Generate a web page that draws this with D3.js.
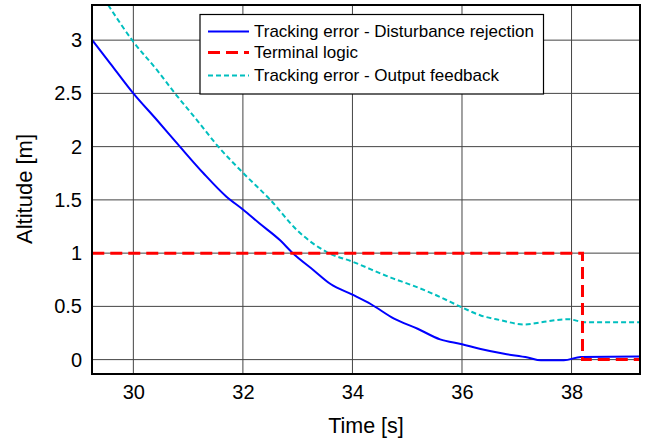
<!DOCTYPE html>
<html>
<head>
<meta charset="utf-8">
<script src="https://cdn.jsdelivr.net/npm/d3@7"></script>
<style>
  html, body { margin: 0; padding: 0; background: #fff; }
  svg { display: block; font-family: "Liberation Sans", Arial, sans-serif; }
</style>
</head>
<body>
<svg id="chart" width="657" height="441"></svg>
<script>
// altitude tracking near touchdown: two tracking errors and the terminal switch

const xTicks = [30, 32, 34, 36, 38];
const yTicks = [0, 0.5, 1, 1.5, 2, 2.5, 3];
const yTickLabels = ['0', '0.5', '1', '1.5', '2', '2.5', '3'];

// time [s], altitude [m]
const disturbanceT = [29.25, 29.58, 30, 30.43, 30.85, 31.28, 31.7, 32, 32.3, 32.68, 32.91, 33.29, 33.6, 34, 34.34, 34.76, 35.19, 35.6, 36, 36.34, 36.77, 37.2, 37.44, 37.86, 38.17, 39.25];
const disturbanceY = [3.0, 2.78, 2.5, 2.25, 2.0, 1.75, 1.53, 1.41, 1.28, 1.12, 1.0, 0.84, 0.71, 0.61, 0.52, 0.385, 0.29, 0.19, 0.145, 0.10, 0.055, 0.02, -0.007, -0.007, 0.025, 0.03];

const feedbackT = [29.54, 30, 30.43, 30.76, 31.16, 31.55, 32.01, 32.5, 33, 33.53, 34, 34.7, 35.13, 35.55, 36, 36.34, 36.71, 37.13, 37.5, 37.93, 38.24, 39.25];
const feedbackY = [3.33, 2.985, 2.72, 2.5, 2.25, 2.0, 1.75, 1.5, 1.21, 1.01, 0.92, 0.77, 0.69, 0.60, 0.49, 0.415, 0.37, 0.33, 0.355, 0.38, 0.352, 0.35];

const terminalT = [29.25, 38.2, 38.2, 39.25];
const terminalY = [1, 1, 0, 0];

const seriesNames = ['Tracking error - Disturbance rejection', 'Terminal logic', 'Tracking error - Output feedback'];

const svg = d3.select('#chart');
const margin = { left: 92, right: 17, top: 5, bottom: 67 };
const W = 657, H = 441;
const FONT = 'Liberation Sans, Arial, sans-serif';

const x = d3.scaleLinear().domain([29.245, 39.25]).range([margin.left, W - margin.right]);
const y = d3.scaleLinear().domain([-0.135, 3.33]).range([H - margin.bottom, margin.top]);

const gGrid = svg.append('g');
gGrid.selectAll('line.vx').data(xTicks).join('line')
    .attr('x1', (d) => x(d)).attr('x2', (d) => x(d))
    .attr('y1', y.range()[0]).attr('y2', y.range()[1])
    .attr('stroke', '#444').attr('stroke-width', 1);
gGrid.selectAll('line.hy').data(yTicks).join('line')
    .attr('y1', (d) => y(d)).attr('y2', (d) => y(d))
    .attr('x1', x.range()[0]).attr('x2', x.range()[1])
    .attr('stroke', '#444').attr('stroke-width', 1);

// clip lines to the axes box
svg.append('clipPath').attr('id', 'clip').append('rect')
    .attr('x', x.range()[0]).attr('y', y.range()[1])
    .attr('width', x.range()[1] - x.range()[0])
    .attr('height', y.range()[0] - y.range()[1]);

const smooth = d3.line().curve(d3.curveMonotoneX).x((d) => x(d[0])).y((d) => y(d[1]));
const line = d3.line().x((d) => x(d[0])).y((d) => y(d[1]));
const zip = (a, b) => a.map((v, i) => [v, b[i]]);

const gLines = svg.append('g').attr('clip-path', 'url(#clip)');
gLines.append('path').datum(zip(feedbackT, feedbackY))
    .attr('d', smooth).attr('fill', 'none')
    .attr('stroke', '#00bfbf').attr('stroke-width', 2).attr('stroke-dasharray', '5,3');
gLines.append('path').datum(zip(disturbanceT, disturbanceY))
    .attr('d', smooth).attr('fill', 'none')
    .attr('stroke', '#0000ff').attr('stroke-width', 2);
gLines.append('path').datum(zip(terminalT, terminalY))
    .attr('d', line).attr('fill', 'none')
    .attr('stroke', '#ff0000').attr('stroke-width', 3).attr('stroke-dasharray', '12,6');

// axes box
svg.append('rect')
    .attr('x', x.range()[0]).attr('y', y.range()[1])
    .attr('width', x.range()[1] - x.range()[0])
    .attr('height', y.range()[0] - y.range()[1])
    .attr('fill', 'none').attr('stroke', '#000').attr('stroke-width', 2);

const xAxis = svg.append('g').attr('transform', `translate(0,${y.range()[0]})`)
    .call(d3.axisBottom(x).tickValues(xTicks).tickSize(0).tickPadding(11).tickFormat(d3.format('d')));
xAxis.select('.domain').remove();
xAxis.selectAll('text').attr('font-size', 20).attr('fill', '#000').attr('font-family', FONT);

const yAxis = svg.append('g').attr('transform', `translate(${x.range()[0]},0)`)
    .call(d3.axisLeft(y).tickValues(yTicks).tickSize(0).tickPadding(10).tickFormat((d, i) => yTickLabels[i]));
yAxis.select('.domain').remove();
yAxis.selectAll('text').attr('font-size', 20).attr('fill', '#000').attr('font-family', FONT);

svg.append('text').attr('x', 366).attr('y', 433)
    .attr('text-anchor', 'middle').attr('font-size', 21.5).text('Time [s]');
svg.append('text').attr('transform', 'translate(32,189) rotate(-90)')
    .attr('text-anchor', 'middle').attr('font-size', 22).text('Altitude [m]');

// legend
const legend = svg.append('g');
legend.append('rect').attr('x', 200).attr('y', 14.5).attr('width', 343.5).attr('height', 79.5)
    .attr('fill', '#fff').attr('stroke', '#000').attr('stroke-width', 1.2);
const styles = [
    { stroke: '#0000ff', w: 2, dash: null },
    { stroke: '#ff0000', w: 3, dash: '12,6' },
    { stroke: '#00bfbf', w: 2, dash: '5,3' },
];
const rowY = [31.5, 52.5, 75.5];
seriesNames.forEach((name, i) => {
    legend.append('line').attr('x1', 208).attr('x2', 249).attr('y1', rowY[i]).attr('y2', rowY[i])
        .attr('stroke', styles[i].stroke).attr('stroke-width', styles[i].w)
        .attr('stroke-dasharray', styles[i].dash);
    legend.append('text').attr('x', 254).attr('y', rowY[i]).attr('dy', '0.35em')
        .attr('font-size', 17).text(name);
});
</script>
</body>
</html>
